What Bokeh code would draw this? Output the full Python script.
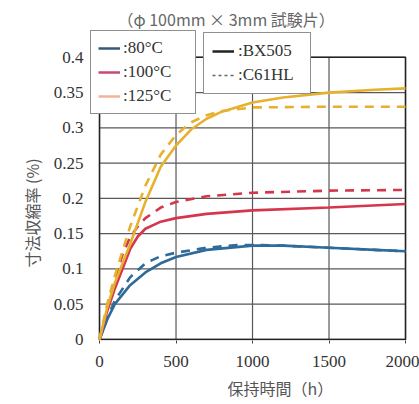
from bokeh.plotting import figure
from bokeh.models import Range1d, FixedTicker, Legend, LegendItem, Label, Title
from bokeh.embed import file_html
from bokeh.resources import INLINE

# ---- data ----
x_ticks = [0, 500, 1000, 1500, 2000]
x_tick_labels = ["0", "500", "1000", "1500", "2000"]
y_ticks = [0, 0.05, 0.1, 0.15, 0.2, 0.25, 0.3, 0.35, 0.4]
y_tick_labels = ["0", "0.05", "0.1", "0.15", "0.2", "0.25", "0.3", "0.35", "0.4"]

temps = ["80°C", "100°C", "125°C"]
materials = ["BX505", "C61HL"]

bx_80_x = [0, 50, 100, 200, 300, 400, 500, 700, 1000, 1200, 1500, 1800, 2000]
bx_80_y = [0, 0.028, 0.05, 0.077, 0.095, 0.108, 0.117, 0.127, 0.133, 0.133, 0.130, 0.127, 0.125]
c61_80_x = [0, 50, 100, 200, 300, 400, 500, 700, 900, 1000, 1200, 1500, 1800, 2000]
c61_80_y = [0, 0.03, 0.055, 0.088, 0.108, 0.118, 0.123, 0.130, 0.134, 0.134, 0.133, 0.130, 0.127, 0.125]

bx_100_x = [0, 50, 100, 150, 200, 250, 300, 400, 500, 700, 1000, 1500, 2000]
bx_100_y = [0, 0.04, 0.072, 0.10, 0.128, 0.146, 0.157, 0.167, 0.172, 0.178, 0.183, 0.187, 0.192]
c61_100_x = [0, 50, 100, 150, 200, 250, 300, 400, 500, 700, 1000, 1500, 2000]
c61_100_y = [0, 0.045, 0.085, 0.12, 0.145, 0.16, 0.172, 0.187, 0.195, 0.203, 0.208, 0.211, 0.212]

bx_125_x = [0, 50, 100, 200, 300, 400, 500, 600, 700, 800, 1000, 1200, 1500, 1800, 2000]
bx_125_y = [0, 0.045, 0.08, 0.135, 0.195, 0.245, 0.275, 0.298, 0.313, 0.323, 0.336, 0.343, 0.350, 0.354, 0.356]
c61_125_x = [0, 50, 100, 200, 300, 400, 500, 600, 700, 800, 1000, 1500, 2000]
c61_125_y = [0, 0.05, 0.09, 0.16, 0.218, 0.262, 0.29, 0.308, 0.318, 0.324, 0.329, 0.330, 0.330]

title_text = "（φ 100mm × 3mm 試験片）"
x_label = "保持時間（h）"
y_label = "寸法収縮率 (%)"

# ---- styles ----
BLUE = "#2f6b9a"
RED = "#d6364c"
YELLOW = "#e6b12f"
SERIF = "Times New Roman"
JP = "Noto Sans CJK JP"
NAN = float("nan")

# frame is enlarged (left / top) so that the legends and title may sit over its edges
p = figure(frame_width=319, frame_height=340, output_backend="svg", toolbar_location=None,
           x_range=Range1d(-72, 2013), y_range=Range1d(-0.0015, 0.4806),
           min_border_left=88, min_border_right=12, min_border_top=0, min_border_bottom=64,
           background_fill_color="white", border_fill_color="white")

p.outline_line_color = None
p.xgrid.visible = False
p.ygrid.visible = False

for ax in (p.xaxis[0], p.yaxis[0]):
    ax.major_label_text_font = SERIF
    ax.major_label_text_font_size = "17px"
    ax.major_label_text_color = "#333333"
    ax.axis_line_color = None
    ax.major_tick_in = 0
    ax.minor_tick_line_color = None

p.xaxis.major_tick_out = 3
p.xaxis.major_tick_line_color = "#444444"
p.xaxis.major_label_standoff = 12
p.yaxis.major_tick_out = 0
p.yaxis.major_tick_line_color = None
p.yaxis.major_label_standoff = 5

p.xaxis.ticker = FixedTicker(ticks=x_ticks)
p.yaxis.ticker = FixedTicker(ticks=y_ticks)
p.xaxis.major_label_overrides = {t: l for t, l in zip(x_ticks, x_tick_labels)}
p.yaxis.major_label_overrides = {t: l for t, l in zip(y_ticks, y_tick_labels)}

# axis titles (placed as side-panel titles so they can be offset like the original)
p.add_layout(Title(text=x_label, align="left", offset=139, standoff=9,
                   text_font=JP, text_font_size="16px", text_font_style="normal",
                   text_color="#555555"), "below")
p.add_layout(Title(text=y_label, align="left", offset=73, standoff=14,
                   text_font=JP, text_font_size="16px", text_font_style="normal",
                   text_color="#555555"), "left")

# grid lines and plot box from the tick arrays
GRID = "#585858"
vx = [[t, t] for t in x_ticks]
vy = [[y_ticks[0], y_ticks[-1]] for t in x_ticks]
hx = [[x_ticks[0], x_ticks[-1]] for t in y_ticks]
hy = [[t, t] for t in y_ticks]
p.multi_line(xs=vx + hx, ys=vy + hy, line_color=GRID, line_width=1.2)
p.multi_line(xs=[[x_ticks[0], x_ticks[-1], x_ticks[-1], x_ticks[0], x_ticks[0]]],
             ys=[[y_ticks[0], y_ticks[0], y_ticks[-1], y_ticks[-1], y_ticks[0]]],
             line_color="#222222", line_width=1.5)

LW = 2.6
DASH = "9 7"
p.line(c61_80_x, c61_80_y, line_color=BLUE, line_width=LW, line_dash=DASH)
p.line(bx_80_x, bx_80_y, line_color=BLUE, line_width=LW)
p.line(c61_100_x, c61_100_y, line_color=RED, line_width=LW, line_dash=DASH)
p.line(bx_100_x, bx_100_y, line_color=RED, line_width=LW)
p.line(c61_125_x, c61_125_y, line_color=YELLOW, line_width=LW, line_dash=DASH)
p.line(bx_125_x, bx_125_y, line_color=YELLOW, line_width=LW)

# legend proxy renderers (draw nothing in the plot)
leg_colors = ["#35597a", "#c84a70", "#f0b49a"]
temp_items = []
for t, c in zip(temps, leg_colors):
    r = p.line([NAN], [NAN], line_color=c, line_width=2.5)
    temp_items.append(LegendItem(label=":" + t + "    ", renderers=[r]))
r_solid = p.line([NAN], [NAN], line_color="#222222", line_width=2.5)
r_dash = p.line([NAN], [NAN], line_color="#666666", line_width=1.5, line_dash="3 3")
mat_items = [LegendItem(label=":" + materials[0] + "  ", renderers=[r_solid]),
             LegendItem(label=":" + materials[1] + "  ", renderers=[r_dash])]

def style_legend(lg):
    lg.label_text_font = SERIF
    lg.label_text_font_size = "17px"
    lg.label_text_color = "#333333"
    lg.border_line_color = "#222222"
    lg.border_line_width = 1.5
    lg.background_fill_color = "white"
    lg.background_fill_alpha = 1.0
    lg.glyph_height = 18
    lg.label_height = 18
    lg.margin = 0

leg1 = Legend(items=temp_items, location=(2, 226))
style_legend(leg1)
leg1.glyph_width = 22
leg1.label_standoff = 3
leg1.spacing = 4
leg1.padding = 7
leg2 = Legend(items=mat_items, location=(115, 246))
style_legend(leg2)
leg2.glyph_width = 22
leg2.label_standoff = 4
leg2.label_height = 20
leg2.spacing = 4
leg2.padding = 8
p.add_layout(leg1, "center")
p.add_layout(leg2, "center")

p.add_layout(Label(x=29, y=322, x_units="screen", y_units="screen", text=title_text,
                   text_font=JP, text_font_size="16px", text_color="#666666",
                   text_align="left", text_baseline="middle"))

open("out.html", "w").write(file_html(p, INLINE))
